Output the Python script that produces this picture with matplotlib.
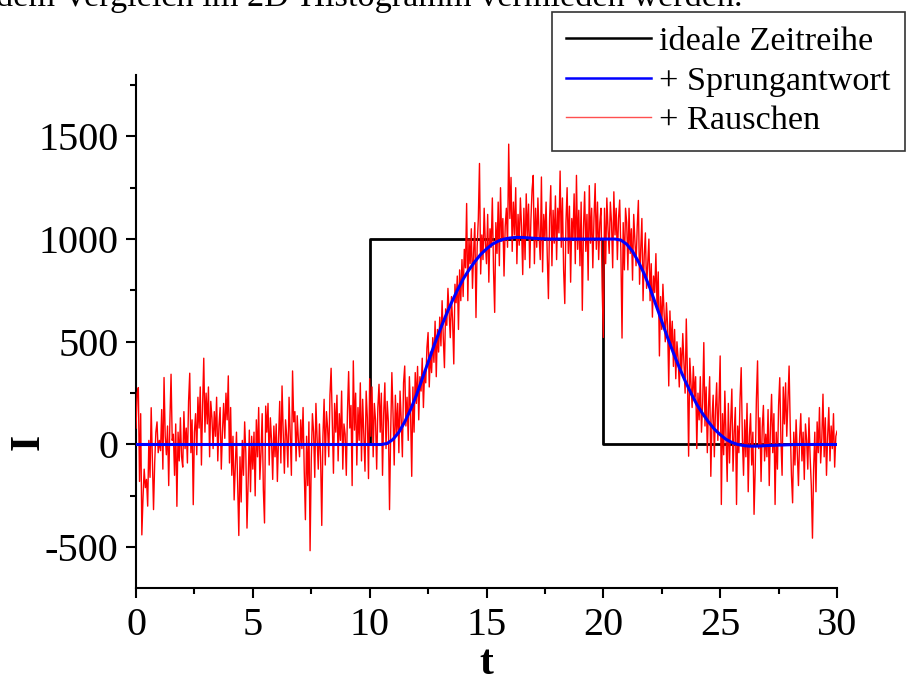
import numpy as np
from matplotlib import pyplot as plt
from matplotlib.ticker import MultipleLocator

plt.rcParams['font.family'] = ['Liberation Serif', 'DejaVu Serif']
plt.rcParams['axes.unicode_minus'] = False

# ideale Zeitreihe: Rechteckpuls
t_ideal = [0, 10, 10, 20, 20, 30]
i_ideal = [0, 0, 1000, 1000, 0, 0]

# Sprungantwort, Schrittweite 0.25
t_sprung = np.linspace(0, 30, 121)
i_sprung = (
    [0] * 43
    + [5, 25, 60, 110, 170, 240, 320, 400, 480, 555, 625, 690, 750, 805, 850,
       890, 925, 952, 975, 990, 1000, 1005]
    + [1008, 1008, 1006, 1004, 1002, 1001, 1000, 1000, 1000, 1000, 1000, 1000,
       1000, 1000, 1000, 1000, 1000, 1000]
    + [995, 975, 940, 890, 830, 760, 680, 600, 520, 445, 375, 310, 250, 195,
       150, 110, 75, 48, 25, 10, 0, -5]
    + [-8, -8, -7, -5, -4, -3, -2, -1, 0, 0, 0, 0, 0, 0, 0, 0]
)

# Sprungantwort + Rauschen, Schrittweite 0.05
t_rausch = np.linspace(0, 30, 601)
i_rausch = [
    80, 250, 277, -180, 150, -440, -260, -120, -210, -170, -300, 20, -160, 179, -60, -317, -90, 60, 110, -40,
    20, -30, 170, -120, 326, 40, -50, 90, -200, 110, 342, 20, 50, -150, 100, -301, 60, -80, 130, -60,
    -110, 160, -20, 80, -90, 210, 347, -40, 120, -293, 60, 150, -50, 230, 80, 280, -100, 190, 420, 60,
    250, 100, 280, -60, 210, 130, -20, 160, 40, 230, -80, 90, 180, -120, 60, 200, 30, 250, 120, 334,
    -90, 180, -150, 40, -270, -110, 60, -200, -443, -60, -280, 20, -150, 110, -40, -407, -180, 70, -230, 40,
    -120, 60, -250, 120, -60, 180, -170, -40, 150, -220, -382, 187, 60, 200, -100, 130, 20, -170, 90, -60,
    100, -180, 30, 210, -90, 285, 60, -140, 120, 40, -110, 230, 50, -150, 358, 110, 160, -80, 140, 20,
    -60, 120, -20, 180, -130, -366, 40, -200, 110, -517, -80, 150, 60, -160, 200, 30, -120, 100, -60, -394,
    40, 220, -100, 160, 80, -60, 240, 371, 120, -140, 200, 60, 240, -80, 150, 20, 260, -120, 100, 50,
    -150, 160, 355, 80, 190, -200, 407, 70, 250, -100, 180, 20, 300, -80, 220, 40, -130, 260, 130, -166,
    320, 40, 280, -60, 200, 120, -120, 180, 293, 60, 250, -150, 150, 300, -20, 210, 110, -317, 60, 350,
    150, -100, 240, 50, 200, -40, 260, 120, -60, 300, 382, 90, 230, 20, 330, 150, -155, 280, 60, 350,
    200, 380, 120, 330, 260, 420, 180, 360, 300, 470, 545, 280, 450, 350, 520, 400, 600, 330, 560, 450,
    620, 480, 700, 520, 374, 660, 580, 760, 640, 520, 720, 600, 392, 780, 690, 820, 560, 850, 700, 900,
    720, 950, 860, 1173, 700, 1000, 880, 1050, 760, 940, 1080, 618, 960, 1100, 1368, 830, 1020, 900, 1150, 980,
    880, 1120, 790, 1050, 960, 1200, 850, 643, 1080, 930, 1180, 870, 1250, 990, 1100, 820, 1060, 1150, 960, 1462,
    1100, 1300, 940, 1180, 1020, 1250, 880, 1120, 970, 1200, 1060, 827, 1150, 900, 1220, 1010, 1170, 860, 1090, 1240,
    1310, 880, 1150, 960, 1200, 1020, 900, 1302, 840, 1120, 1000, 1180, 920, 710, 1100, 1260, 870, 1140, 980, 1210,
    900, 1150, 1030, 1331, 960, 1200, 850, 686, 1080, 1250, 930, 1160, 790, 1100, 1000, 1220, 880, 1310, 950, 1140,
    870, 1180, 653, 1050, 1230, 940, 1120, 800, 1260, 980, 1150, 860, 1100, 1270, 950, 1180, 900, 1080, 1150, 760,
    521, 1150, 880, 1200, 1050, 930, 1180, 1080, 860, 1230, 1020, 1150, 900, 1100, 1190, 940, 518, 1080, 850, 1150,
    1080, 850, 1150, 930, 1050, 800, 1120, 990, 870, 1060, 1188, 780, 950, 1100, 700, 920, 1030, 760, 880, 1000,
    700, 880, 620, 820, 740, 929, 660, 840, 431, 720, 560, 780, 640, 500, 690, 580, 285, 650, 470, 600,
    380, 560, 320, 500, 420, 280, 470, 350, 540, 400, 250, 611, 340, -57, 420, 300, 180, 380, 230, 330,
    -20, 250, 120, 330, 60, 200, 496, 90, 280, -40, 180, 330, -155, 120, 240, -60, 170, 300, 20, 210,
    431, -292, 150, -50, 260, 40, -180, 200, -90, 110, 270, -130, 60, 180, -292, 90, -40, 220, 374, 30,
    -150, 120, -60, 200, -230, 40, 150, -100, 60, -340, -120, 220, 407, -20, 130, -180, 80, 190, -80, 50,
    -60, 170, -200, 80, 244, -40, 150, -292, 60, -120, 190, 325, 20, -150, 280, 100, 300, 40, 210, 382,
    80, -150, -284, 60, -100, 120, -40, -200, 30, 150, -80, 60, -170, 100, 20, -120, 130, -60, -200, -456,
    -120, 60, -230, 110, -40, 180, -90, 30, 245, -60, 130, -150, 40, 180, -80, 90, -20, 150, -110, 40,
    65,
]

fig = plt.figure(figsize=(9.06, 6.83), dpi=100)
ax = fig.add_axes([136 / 906, 1 - 588.3 / 683, 701 / 906, 513.6 / 683])

l_ideal, = ax.plot(t_ideal, i_ideal, color='black', lw=2.0, zorder=2)
l_rausch, = ax.plot(t_rausch, i_rausch, color='#ff0000', lw=1.0, zorder=3)
l_sprung, = ax.plot(t_sprung, i_sprung, color='#0000ff', lw=2.2, zorder=4)

ax.set_xlim(0, 30)
ax.set_ylim(-700, 1800)
ax.xaxis.set_major_locator(MultipleLocator(5))
ax.xaxis.set_minor_locator(MultipleLocator(2.5))
ax.yaxis.set_major_locator(MultipleLocator(500))
ax.yaxis.set_minor_locator(MultipleLocator(250))

for s in ['top', 'right']:
    ax.spines[s].set_visible(False)
for s in ['left', 'bottom']:
    ax.spines[s].set_linewidth(1.5)

ax.tick_params(which='major', direction='out', length=7.5, width=1.5, labelsize=29, pad=5)
ax.tick_params(which='minor', direction='out', length=4.5, width=1.5)
ax.tick_params(axis='x', which='major', pad=6)

ax.set_xlabel('t', fontsize=30, fontweight='bold', labelpad=1)
ax.set_ylabel('I', fontsize=30, fontweight='bold')
ax.yaxis.set_label_coords(-0.126, 0.285)

leg = ax.legend([l_ideal, l_sprung, l_rausch],
                ['ideale Zeitreihe', '+ Sprungantwort', '+ Rauschen'],
                loc='upper right', bbox_to_anchor=(905 / 906, 1 - 11.7 / 683),
                bbox_transform=fig.transFigure, fontsize=24.7, frameon=True,
                fancybox=False, edgecolor='#333333', borderpad=0.42,
                handlelength=2.45, handletextpad=0.25, labelspacing=0.25,
                borderaxespad=0)
leg.get_frame().set_linewidth(1.2)
leg.get_frame().set_alpha(None)
for line in leg.get_lines():
    line.set_linewidth(1.8)
leg.get_lines()[2].set_linewidth(1.0)
leg.get_lines()[2].set_color('#ff5050')

fig.text(-0.004, 1 - 6 / 683, 'dem Vergleich im 2D-Histogramm vermieden werden.',
         fontsize=24.7, va='baseline', ha='left')

fig.savefig('out.png', dpi=100)
